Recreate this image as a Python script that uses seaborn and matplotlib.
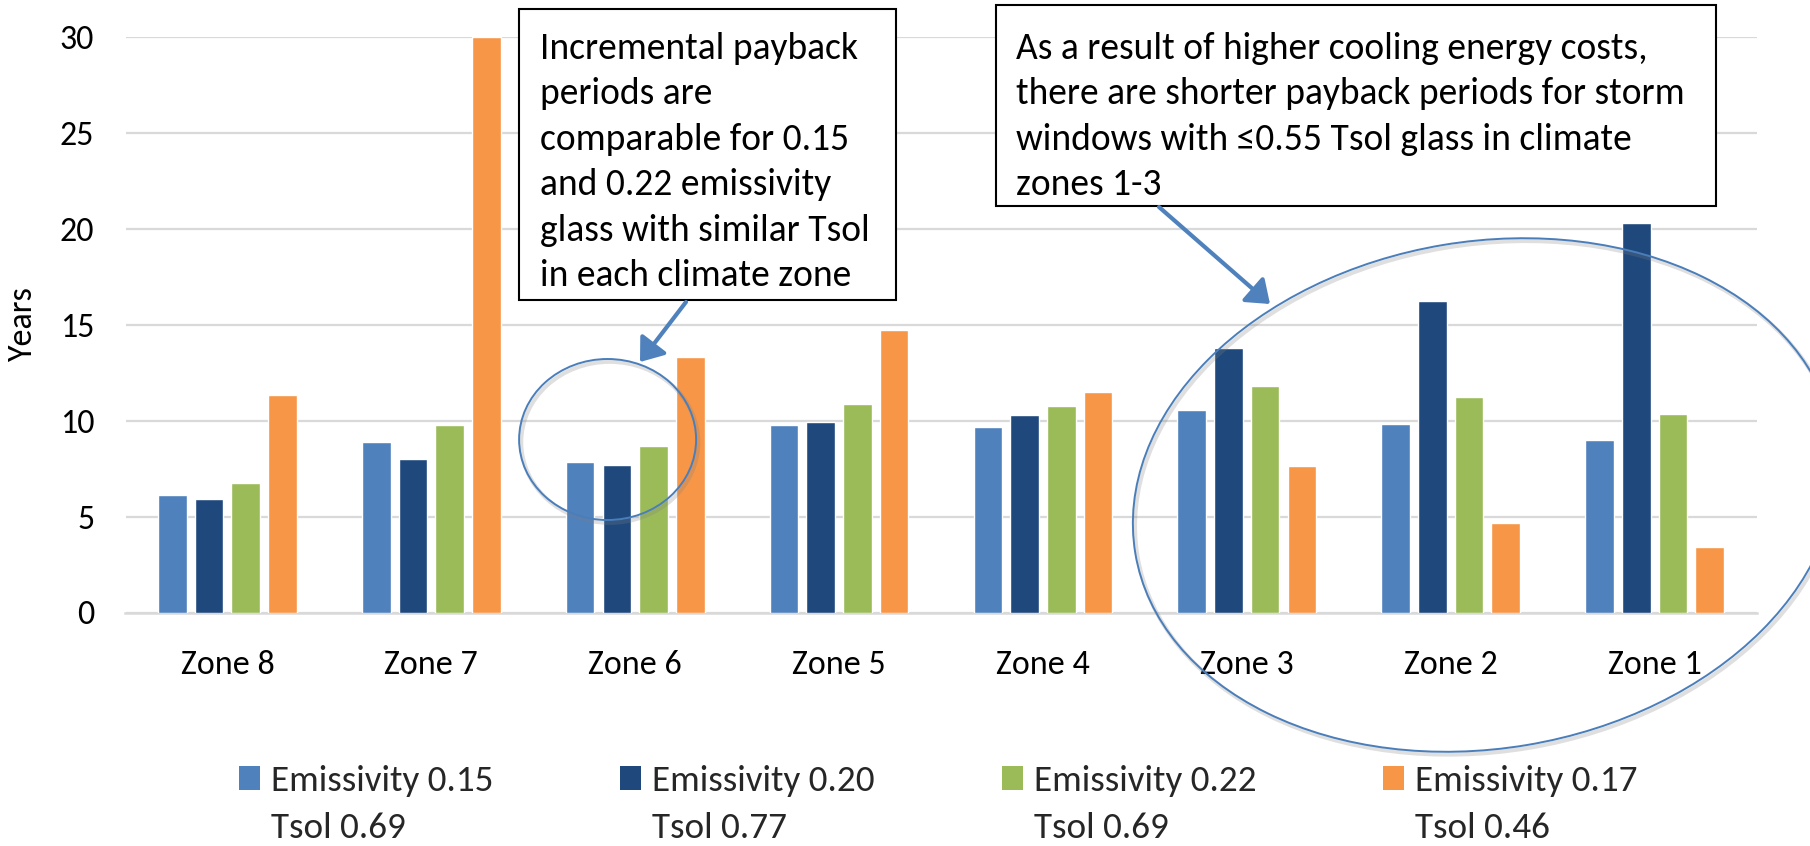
import matplotlib
matplotlib.use("Agg")
import matplotlib.pyplot as plt
from matplotlib import font_manager
from matplotlib.patches import Patch, Rectangle, Ellipse, FancyArrowPatch
from matplotlib import patheffects as pe
import seaborn as sns
import pandas as pd

# ---- data -------------------------------------------------------------
zones = ["Zone 8", "Zone 7", "Zone 6", "Zone 5", "Zone 4", "Zone 3", "Zone 2", "Zone 1"]
series_names = [
    "Emissivity 0.15\nTsol 0.69",
    "Emissivity 0.20\nTsol 0.77",
    "Emissivity 0.22\nTsol 0.69",
    "Emissivity 0.17\nTsol 0.46",
]
emis_015_tsol_069 = [6.13, 8.89, 7.83, 9.76, 9.68, 10.58, 9.83, 9.01]
emis_020_tsol_077 = [5.90, 7.99, 7.69, 9.92, 10.30, 13.81, 16.27, 20.32]
emis_022_tsol_069 = [6.77, 9.78, 8.67, 10.88, 10.79, 11.83, 11.23, 10.35]
emis_017_tsol_046 = [11.36, 30.00, 13.31, 14.74, 11.50, 7.66, 4.68, 3.40]
y_ticks = [0, 5, 10, 15, 20, 25, 30]
colors = ["#4F81BD", "#1F497D", "#9BBB59", "#F79646"]

note_left = ("Incremental payback\nperiods are\ncomparable for 0.15\n"
             "and 0.22 emissivity\nglass with similar Tsol\nin each climate zone")
note_right = ("As a result of higher cooling energy costs,\n"
              "there are shorter payback periods for storm\n"
              "windows with \u22640.55 Tsol glass in climate\nzones 1-3")

# ---- long-form table for seaborn ---------------------------------------
values = [emis_015_tsol_069, emis_020_tsol_077, emis_022_tsol_069, emis_017_tsol_046]
rows = []
for name, vals in zip(series_names, values):
    for z, v in zip(zones, vals):
        rows.append({"zone": z, "series": name, "years": v})
df = pd.DataFrame(rows)

# ---- style --------------------------------------------------------------
sns.set_theme(style="white")
names = {f.name for f in font_manager.fontManager.ttflist}
main_font = "Carlito" if "Carlito" in names else "Lato"
plt.rcParams["font.family"] = [main_font, "DejaVu Sans"]
FS_TICK = 24.5
FS_NOTE = 27
FS_LEG = 26.7

W, H = 1810, 846
fig = plt.figure(figsize=(W / 100, H / 100), dpi=100)
fig.patch.set_facecolor("white")

# plot area in pixels: x 125.5..1756.5, y 37.3..612.5 (top-down)
ax = fig.add_axes([125.5 / W, 1 - 612.5 / H, 1631 / W, (612.5 - 37.3) / H])

sns.barplot(data=df, x="zone", y="years", hue="series", order=zones,
            hue_order=series_names, palette=colors, width=0.72, gap=0.22,
            saturation=1, errorbar=None, legend=False, ax=ax, zorder=3)

ax.set_ylim(0, 30)
ax.set_xlim(-0.5, len(zones) - 0.5)
ax.set_yticks(y_ticks)
ax.yaxis.grid(True, color="#D9D9D9", linewidth=1.6, zorder=0)
ax.set_axisbelow(True)
for s in ["top", "right", "left"]:
    ax.spines[s].set_visible(False)
ax.spines["bottom"].set_color("#D9D9D9")
ax.spines["bottom"].set_linewidth(1.8)
ax.tick_params(axis="both", length=0, labelsize=FS_TICK, labelcolor="black")
ax.tick_params(axis="y", pad=22.5)
ax.tick_params(axis="x", pad=27)
ax.set_xlabel("")
ax.set_ylabel("Years", fontsize=FS_TICK, color="black")
ax.yaxis.label.set(va="center", ha="center", rotation_mode="default")
ax.yaxis.set_label_coords((23 - 125.5) / 1631, 0.5)

# ---- legend: swatch on the first line, Tsol on the second ---------------
handles, labels = [], []
for name, c in zip(series_names, colors):
    first, second = name.split("\n")
    handles += [Patch(facecolor=c, edgecolor="none"), Patch(facecolor="none", edgecolor="none")]
    labels += [first, second]
fig.legend(handles, labels, ncol=4, loc="upper left",
           bbox_to_anchor=(239 / W, 1 - 765 / H), frameon=False,
           fontsize=FS_LEG, handlelength=0.57, handleheight=0.59,
           handletextpad=0.3, columnspacing=3.41, labelspacing=0.41,
           borderpad=0, borderaxespad=0)

# ---- callouts drawn in figure pixel space ------------------------------
ov = fig.add_axes([0, 0, 1, 1], zorder=5)
ov.set_xlim(0, W)
ov.set_ylim(H, 0)
ov.axis("off")
ov.patch.set_alpha(0)

shadow = [pe.SimpleLineShadow(offset=(1.5, -2), shadow_color="gray", alpha=0.25, linewidth=3),
          pe.Normal()]
ov.add_patch(Ellipse((607.6, 439.5), 177, 161, fill=False, edgecolor="#4A7EBB",
                     linewidth=1.4, path_effects=shadow))
ov.add_patch(Ellipse((1485, 495), 709, 507, angle=-9.5, fill=False, edgecolor="#4A7EBB",
                     linewidth=1.4, path_effects=shadow))

ov.add_patch(Rectangle((519, 9), 377, 291, facecolor="white", edgecolor="black", linewidth=1.5))
ov.add_patch(Rectangle((995.5, 5), 720.5, 200.7, facecolor="white", edgecolor="black", linewidth=1.5))
ov.text(539.6, 32, note_left, fontsize=FS_NOTE, va="top", ha="left", linespacing=1.46, color="black")
ov.text(1016, 32, note_right, fontsize=FS_NOTE, va="top", ha="left", linespacing=1.46, color="black")

for tail, tip in [((686, 302), (640, 362)), ((1159, 207), (1270, 304))]:
    ov.add_patch(FancyArrowPatch(tail, tip, arrowstyle="-|>,head_length=0.6,head_width=0.45",
                                 mutation_scale=22, color="#4F81BD", linewidth=3,
                                 shrinkA=0, shrinkB=0))

fig.savefig("out.png", dpi=100, facecolor="white")
